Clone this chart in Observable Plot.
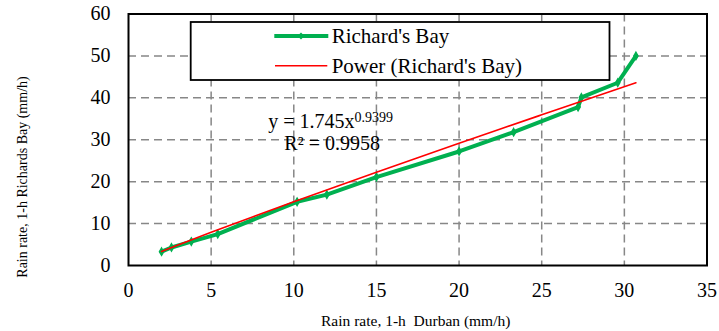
<!DOCTYPE html>
<html>
<head>
<meta charset="utf-8">
<script src="https://cdn.jsdelivr.net/npm/d3@7"></script>
<script src="https://cdn.jsdelivr.net/npm/@observablehq/plot@0.6"></script>
<style>
  body { margin: 0; background: #fff; }
  #chart { position: relative; width: 719px; height: 331px; }
</style>
</head>
<body>
<div id="chart"></div>
<script>
// Observed series: 1-h rain rate, Durban (x) vs Richards Bay (y), mm/h
const durban      = [2.0, 2.6, 3.8, 5.4, 10.2, 12.0, 15.0, 20.0, 23.3, 27.2, 27.4, 29.6, 30.7];
const richardsBay = [3.3, 4.3, 5.7, 7.5, 15.2, 16.9, 21.1, 27.2, 31.8, 37.8, 40.1, 43.6, 50.0];

// Power trendline (Richard's Bay)
const trendX = [2, 3, 5, 7.5, 10, 12.5, 15, 17.5, 20, 22.5, 25, 27.5, 30.7];
const trendY = [3.35, 4.90, 7.92, 11.60, 15.20, 18.74, 22.24, 25.71, 29.15, 32.56, 35.95, 39.33, 43.6];

// Tick labels
const xTicks = [0, 5, 10, 15, 20, 25, 30, 35];
const yTicks = [0, 10, 20, 30, 40, 50, 60];

// Texts
const seriesName = "Richard's Bay";
const trendName = "Power (Richard's Bay)";
const eqMain = "y = 1.745x";
const eqExp = "0.9399";
const r2Text = "R² = 0.9958";
const xTitle = "Rain rate, 1-h  Durban (mm/h)";
const yTitle = "Rain rate, 1-h Richards Bay (mm/h)";

const GREEN = "#00B050";
const RED = "#FF0000";
const GRID = "#878787";
const FONT = "'Liberation Serif', 'Times New Roman', serif";

const rows = durban.map((x, i) => ({x, y: richardsBay[i]}));
const trend = trendX.map((x, i) => ({x, y: trendY[i]}));

const innerX = xTicks.slice(1, -1);
const innerY = yTicks.slice(1, -1);

const svg = Plot.plot({
  width: 719,
  height: 331,
  marginLeft: 128,
  marginRight: 12.5,
  marginTop: 13.5,
  marginBottom: 66,
  style: {fontFamily: FONT, fontSize: "20px", background: "white", color: "black", overflow: "visible"},
  x: {domain: [0, 35], ticks: xTicks},
  y: {domain: [0, 60], ticks: yTicks},
  marks: [
    Plot.gridX(innerX, {stroke: GRID, strokeOpacity: 1, strokeWidth: 1.5, strokeDasharray: "8,5"}),
    Plot.gridY(innerY, {stroke: GRID, strokeOpacity: 1, strokeWidth: 1.5, strokeDasharray: "8,5"}),
    Plot.line(rows, {x: "x", y: "y", stroke: GREEN, strokeWidth: 4, strokeLinejoin: "round"}),
    Plot.dot(rows, {x: "x", y: "y", symbol: "diamond", r: 2.2, fill: GREEN, stroke: GREEN}),
    Plot.line(trend, {x: "x", y: "y", stroke: RED, strokeWidth: 1.6, curve: "monotone-x"}),
    Plot.frame({stroke: "black", strokeWidth: 2}),
    Plot.axisX(xTicks, {tickSize: 0, tickPadding: 17, label: null, fontSize: 20, fontFamily: FONT}),
    Plot.axisY(yTicks, {tickSize: 0, tickPadding: 18, label: null, fontSize: 20, fontFamily: FONT})
  ]
});

document.getElementById("chart").appendChild(svg);

// Annotations: legend box, trendline equation, axis titles
const s = d3.select(svg);
const g = s.append("g")
  .attr("font-family", FONT)
  .attr("fill", "black")
  .attr("text-anchor", "start");

g.append("rect")
  .attr("x", 190.7).attr("y", 22).attr("width", 418.8).attr("height", 58)
  .attr("fill", "white").attr("stroke", "black").attr("stroke-width", 1.8);

g.append("line")
  .attr("x1", 274.3).attr("x2", 328.3).attr("y1", 36).attr("y2", 36)
  .attr("stroke", GREEN).attr("stroke-width", 4);
g.append("path")
  .attr("d", "M301,32.5L304.5,36L301,39.5L297.5,36Z")
  .attr("fill", GREEN);
g.append("text")
  .attr("x", 331.7).attr("y", 43.3).attr("font-size", 21)
  .attr("text-anchor", "start")
  .text(seriesName);

g.append("line")
  .attr("x1", 275).attr("x2", 327.3).attr("y1", 65.7).attr("y2", 65.7)
  .attr("stroke", RED).attr("stroke-width", 1.6);
g.append("text")
  .attr("x", 331.7).attr("y", 73.3).attr("font-size", 21)
  .attr("text-anchor", "start")
  .text(trendName);

const eq = g.append("text")
  .attr("x", 268.3).attr("y", 127.7).attr("font-size", 20)
  .attr("text-anchor", "start");
eq.append("tspan").text(eqMain);
eq.append("tspan").attr("font-size", 14).attr("dy", -6).text(eqExp);

g.append("text")
  .attr("x", 284.3).attr("y", 150).attr("font-size", 20)
  .attr("text-anchor", "start")
  .text(r2Text);

g.append("text")
  .attr("x", 415.7).attr("y", 326).attr("font-size", 15.5)
  .attr("text-anchor", "middle")
  .style("white-space", "pre")
  .text(xTitle);

g.append("text")
  .attr("transform", "translate(26.5,177) rotate(-90)")
  .attr("font-size", 14)
  .attr("text-anchor", "middle")
  .text(yTitle);
</script>
</body>
</html>
